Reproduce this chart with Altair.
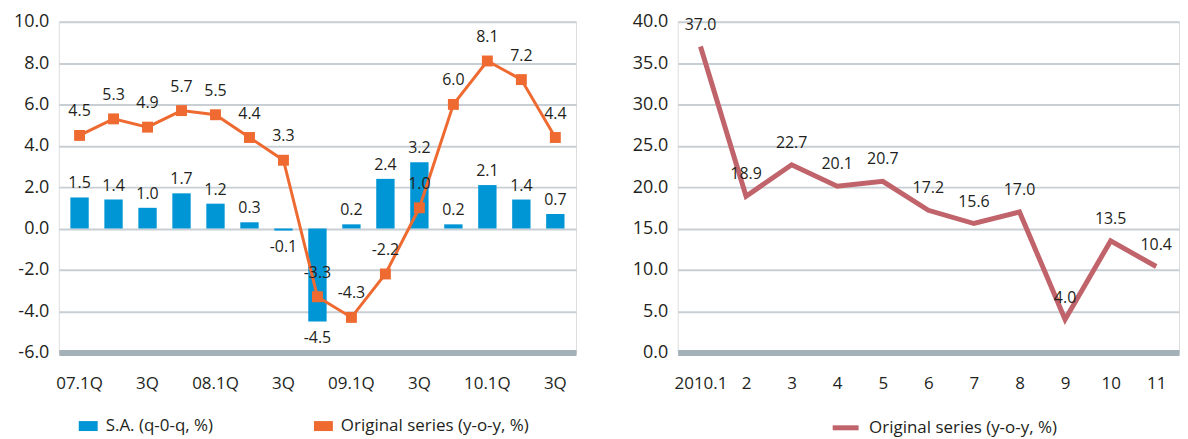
import json
import altair as alt
import pandas as pd

# ---------------- data ----------------
quarters = ["07.1Q", "07.2Q", "07.3Q", "07.4Q", "08.1Q", "08.2Q", "08.3Q", "08.4Q",
            "09.1Q", "09.2Q", "09.3Q", "09.4Q", "10.1Q", "10.2Q", "10.3Q"]
quarter_tick_labels = ["07.1Q", "", "3Q", "", "08.1Q", "", "3Q", "", "09.1Q", "",
                       "3Q", "", "10.1Q", "", "3Q"]
sa_qoq = [1.5, 1.4, 1.0, 1.7, 1.2, 0.3, -0.1, -4.5, 0.2, 2.4, 3.2, 0.2, 2.1, 1.4, 0.7]
orig_yoy_quarterly = [4.5, 5.3, 4.9, 5.7, 5.5, 4.4, 3.3, -3.3, -4.3, -2.2, 1.0, 6.0, 8.1, 7.2, 4.4]

months = ["2010.1", "2", "3", "4", "5", "6", "7", "8", "9", "10", "11"]
orig_yoy_monthly = [37.0, 18.9, 22.7, 20.1, 20.7, 17.2, 15.6, 17.0, 4.0, 13.5, 10.4]

left_ticks = [-6, -4, -2, 0, 2, 4, 6, 8, 10]
right_ticks = [0, 5, 10, 15, 20, 25, 30, 35, 40]

sa_name = "S.A. (q-0-q, %)"
orig_name = "Original series (y-o-y, %)"

# ---------------- style ----------------
FONT = "Open Sans"
TEXT = "#231f20"
BLUE = "#0096d6"
ORANGE = "#ee6a31"
ROSE = "#c0636b"
GRID = "#c7cfd5"
BASE = "#a3b0b8"

left_df = pd.DataFrame({"quarter": quarters, "sa": sa_qoq, "orig": orig_yoy_quarterly})
right_df = pd.DataFrame({"month": months, "orig": orig_yoy_monthly})

label_expr = "%s[indexof(%s, datum.value)]" % (json.dumps(quarter_tick_labels), json.dumps(quarters))

x_left = alt.X("quarter:N", sort=quarters,
               scale=alt.Scale(paddingInner=0.46, paddingOuter=0.34),
               axis=alt.Axis(title=None, labelExpr=label_expr, labelAngle=0, ticks=False,
                             domainColor=BASE, domainWidth=6, labelPadding=23,
                             labelFont=FONT, labelFontSize=17, labelColor=TEXT, grid=False))


def y_axis(ticks):
    return alt.Axis(title=None, values=ticks, format=".1f", domain=False, ticks=False,
                    gridColor=GRID, gridWidth=2, labelPadding=10, labelFont=FONT,
                    labelFontSize=18, labelColor=TEXT, minExtent=50, maxExtent=50)


y_left = alt.Y("sa:Q", scale=alt.Scale(domain=[-6, 10], nice=False, zero=False), axis=y_axis(left_ticks))
y_left_line = alt.Y("orig:Q", scale=alt.Scale(domain=[-6, 10], nice=False, zero=False), axis=y_axis(left_ticks))

left_color = alt.Color(
    "s:N",
    scale=alt.Scale(domain=[sa_name, orig_name], range=[BLUE, ORANGE]),
    legend=alt.Legend(title=None, orient="none", legendX=20, legendY=396,
                      direction="horizontal", symbolType="M-1,-0.526H1V0.526H-1Z",
                      symbolSize=361, symbolStrokeWidth=0, labelFont=FONT, labelFontSize=17,
                      labelColor=TEXT, columnPadding=101, labelOffset=8, labelLimit=400),
)

base_left = alt.Chart(left_df)

bars = base_left.mark_bar().encode(x=x_left, y=y_left, color=left_color).transform_calculate(
    s="'%s'" % sa_name)

line = base_left.mark_line(color=ORANGE, strokeWidth=3).encode(
    x=x_left, y=y_left_line)

points = base_left.mark_point(shape="square", filled=True, size=120, opacity=1).encode(
    x=x_left, y=y_left_line, color=left_color).transform_calculate(s="'%s'" % orig_name)

txt_style = dict(font=FONT, fontSize=16, color=TEXT)

bar_lbl_pos = base_left.mark_text(dy=-14, **txt_style).encode(
    x=x_left, y=y_left, text=alt.Text("sa:Q", format=".1f")).transform_filter("datum.sa >= 0")
bar_lbl_neg = base_left.mark_text(dy=17, **txt_style).encode(
    x=x_left, y=y_left, text=alt.Text("sa:Q", format=".1f")).transform_filter("datum.sa < 0")
line_lbl = base_left.mark_text(dy=-24, **txt_style).encode(
    x=x_left, y=y_left_line, text=alt.Text("orig:Q", format=".1f"))

left = alt.layer(bars, line, points, bar_lbl_pos, bar_lbl_neg, line_lbl).properties(
    width=519, height=332)

# ---------------- right ----------------
x_right = alt.X("month:N", sort=months,
                scale=alt.Scale(type="point", padding=0.5),
                axis=alt.Axis(title=None, labelAngle=0, ticks=False, domainColor=BASE,
                              domainWidth=6, labelPadding=23, labelFont=FONT,
                              labelFontSize=17, labelColor=TEXT, grid=False))
y_right = alt.Y("orig:Q", scale=alt.Scale(domain=[0, 40], nice=False), axis=y_axis(right_ticks))

right_color = alt.Color(
    "s:N",
    scale=alt.Scale(domain=[orig_name], range=[ROSE]),
    legend=alt.Legend(title=None, orient="none", legendX=153, legendY=392,
                      direction="horizontal", symbolType="stroke", symbolSize=676,
                      symbolStrokeWidth=5, labelFont=FONT, labelFontSize=17,
                      labelColor=TEXT, labelOffset=8, labelLimit=400),
)

base_right = alt.Chart(right_df)
rline = base_right.mark_line(strokeWidth=5).encode(
    x=x_right, y=y_right, color=right_color).transform_calculate(s="'%s'" % orig_name)
rlbl = base_right.mark_text(dy=-22, **txt_style).encode(
    x=x_right, y=y_right, text=alt.Text("orig:Q", format=".1f"))

right = alt.layer(rline, rlbl).properties(width=503, height=332)

chart = alt.hconcat(left, right, spacing=50).resolve_scale(color="independent").resolve_legend(
    color="independent").properties(
    padding={"top": 3, "left": 0, "right": 0, "bottom": 0}
).configure_view(stroke=None).configure(
    locale={"number": {"decimal": ".", "thousands": ",", "grouping": [3],
                       "currency": ["$", ""], "minus": "-"}}
)

chart.save("out.html", embed_options={"renderer": "svg", "actions": False})
